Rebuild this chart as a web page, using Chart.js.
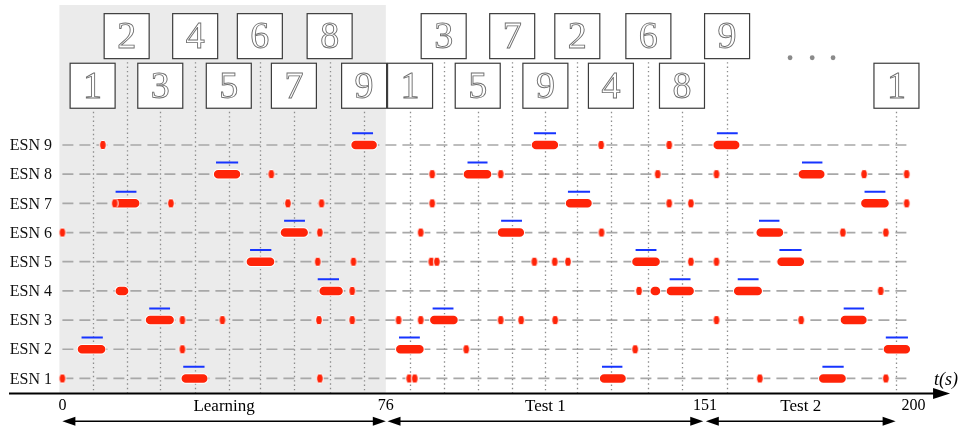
<!DOCTYPE html>
<html>
<head>
<meta charset="utf-8">
<script src="https://cdn.jsdelivr.net/npm/chart.js@4.4.0/dist/chart.umd.min.js"></script>
<style>
  html, body { margin: 0; padding: 0; background: #fff; overflow: hidden; }
  #esnChart { display: block; width: 964px; height: 432px; }
</style>
</head>
<body>
<canvas id="esnChart" width="964" height="432"></canvas>
<script>
// rows of the chart
const esnNames = ['ESN 1', 'ESN 2', 'ESN 3', 'ESN 4', 'ESN 5', 'ESN 6', 'ESN 7', 'ESN 8', 'ESN 9'];

// digits shown to the network, time (s) and box row (0 = lower, 1 = upper)
const digitLabels = ['1', '2', '3', '4', '5', '6', '7', '8', '9', '1', '3', '5', '7', '9', '2', '4', '6', '8', '9', '1'];
const digitTimes = [7.1, 15.1, 23.0, 31.2, 39.1, 46.4, 54.4, 62.8, 70.9, 81.7, 89.6, 97.6, 105.7, 113.5, 121.0, 128.9, 137.7, 145.6, 156.2, 196.0];
const digitTier = [0, 1, 0, 1, 0, 1, 0, 1, 0, 0, 1, 0, 1, 0, 1, 0, 1, 0, 1, 0];
const ellipsisTimes = [171.0, 176.2, 181.1];

// phases along the time axis
const phaseNames = ['Learning', 'Test 1', 'Test 2'];
const phaseSpans = [[0, 76], [76.4, 150.6], [151.2, 195.8]];
const tickValues = [0, 76, 151, 200];
const learningEnd = 76;

// red activity bursts per ESN, [start, end] in s
const esn1Runs = [[29.0, 33.1], [127.3, 131.4], [178.8, 183.1]];
const esn2Runs = [[4.6, 9.1], [79.4, 83.9], [194.0, 198.2]];
const esn3Runs = [[20.6, 25.2], [87.4, 91.9], [183.9, 188.0]];
const esn4Runs = [[13.5, 14.5], [61.4, 64.9], [139.2, 139.5], [143.0, 147.4], [158.8, 163.4]];
const esn5Runs = [[44.3, 48.8], [134.9, 139.4], [169.0, 173.3]];
const esn6Runs = [[52.3, 56.7], [103.3, 107.5], [164.1, 168.4]];
const esn7Runs = [[12.8, 17.1], [119.3, 123.4], [188.7, 193.2]];
const esn8Runs = [[36.6, 40.8], [95.3, 99.8], [174.0, 178.1]];
const esn9Runs = [[68.9, 72.9], [111.3, 115.5], [154.0, 158.1]];

// single spikes per ESN, in s
const esn1Spikes = [0, 60.5, 81.5, 82.8, 163.9, 193.5];
const esn2Spikes = [28.2, 94.9, 134.6];
const esn3Spikes = [28.2, 37.6, 60.3, 68.1, 79.0, 84.2, 103.0, 107.8, 115.8, 153.7, 173.6];
const esn4Spikes = [68.1, 135.5, 192.3];
const esn5Spikes = [60.0, 68.4, 86.7, 88.0, 110.9, 115.7, 118.8, 147.7, 153.7];
const esn6Spikes = [0, 60.5, 84.2, 126.7, 183.4, 193.5];
const esn7Spikes = [12.3, 25.5, 53.0, 60.9, 86.9, 142.6, 147.7, 198.4];
const esn8Spikes = [49.1, 86.9, 103.0, 139.9, 153.7, 188.4, 198.4];
const esn9Spikes = [9.5, 126.6, 142.6];

// expected answer windows (blue), [start, end] in s
const esn1Target = [[28.4, 33.4], [126.8, 131.6], [178.6, 183.6]];
const esn2Target = [[4.5, 9.5], [79.1, 84.0], [193.5, 198.7]];
const esn3Target = [[20.4, 25.3], [87.0, 91.9], [183.6, 188.4]];
const esn4Target = [[60.0, 65.0], [142.7, 147.6], [158.7, 163.6]];
const esn5Target = [[44.1, 49.1], [134.7, 139.6], [168.5, 173.7]];
const esn6Target = [[52.1, 57.0], [103.1, 108.0], [163.7, 168.5]];
const esn7Target = [[12.5, 17.4], [118.8, 124.0], [188.5, 193.4]];
const esn8Target = [[36.1, 41.3], [95.2, 99.9], [173.8, 178.6]];
const esn9Target = [[68.1, 73.0], [110.8, 116.0], [153.8, 158.7]];

const allRuns = [esn1Runs, esn2Runs, esn3Runs, esn4Runs, esn5Runs, esn6Runs, esn7Runs, esn8Runs, esn9Runs];
const allSpikes = [esn1Spikes, esn2Spikes, esn3Spikes, esn4Spikes, esn5Spikes, esn6Spikes, esn7Spikes, esn8Spikes, esn9Spikes];
const allTargets = [esn1Target, esn2Target, esn3Target, esn4Target, esn5Target, esn6Target, esn7Target, esn8Target, esn9Target];

const RED = 'rgb(255,36,8)';
const BLUE = 'rgb(22,52,255)';
const SERIF = '"Liberation Serif", "DejaVu Serif", serif';
const targetLift = 0.4;   // blue line sits a bit above its row
const tierY = [11.03, 12.73];
const axisY = 0.48;
const gridEnd = 198.6;

// broken line: each pair of points is one segment, a null ends it
function segmentPoints(lists, lift) {
  const pts = [];
  lists.forEach((segs, i) => {
    segs.forEach(([a, b]) => {
      pts.push({ x: a, y: i + 1 + lift }, { x: b, y: i + 1 + lift }, { x: b, y: null });
    });
  });
  return pts;
}

const spikePoints = [];
allSpikes.forEach((list, i) => list.forEach(t => spikePoints.push({ x: t, y: i + 1 })));

// ellipse marker for spikes
const spikeDot = document.createElement('canvas');
spikeDot.width = 10;
spikeDot.height = 12;
(function () {
  const g = spikeDot.getContext('2d');
  g.beginPath();
  g.ellipse(5, 6, 3.3, 4.6, 0, 0, Math.PI * 2);
  g.fillStyle = RED;
  g.fill();
  g.lineWidth = 1;
  g.strokeStyle = '#fff';
  g.stroke();
})();

function arrowHead(ctx, tipX, tipY, dir, len, half) {
  ctx.beginPath();
  ctx.moveTo(tipX, tipY);
  ctx.lineTo(tipX - dir * len, tipY - half);
  ctx.lineTo(tipX - dir * len, tipY + half);
  ctx.closePath();
  ctx.fill();
}

const decor = {
  id: 'decor',
  beforeDatasetsDraw(chart) {
    const { ctx, scales: { x, y } } = chart;
    const baseY = y.getPixelForValue(axisY);
    ctx.save();

    // learning phase backdrop
    ctx.fillStyle = '#ebebeb';
    ctx.fillRect(x.getPixelForValue(-0.7), chart.chartArea.top,
      x.getPixelForValue(learningEnd) - x.getPixelForValue(-0.7), baseY - chart.chartArea.top);

    // dashed row lines
    ctx.strokeStyle = '#a8a8a8';
    ctx.lineWidth = 1.7;
    ctx.setLineDash([11, 6]);
    esnNames.forEach((n, i) => {
      const py = y.getPixelForValue(i + 1);
      ctx.beginPath();
      ctx.moveTo(x.getPixelForValue(0), py);
      ctx.lineTo(x.getPixelForValue(gridEnd), py);
      ctx.stroke();
    });

    // dotted lines under each digit
    ctx.strokeStyle = '#8c8c8c';
    ctx.lineWidth = 1.3;
    ctx.setLineDash([1.4, 3]);
    digitTimes.forEach((t, i) => {
      const px = Math.round(x.getPixelForValue(t)) + 0.5;
      const top = y.getPixelForValue(tierY[digitTier[i]]) + 26;
      ctx.beginPath();
      ctx.moveTo(px, top);
      ctx.lineTo(px, baseY);
      ctx.stroke();
    });
    ctx.setLineDash([]);

    // digit boxes
    const side = 45;
    digitTimes.forEach((t, i) => {
      const cx = x.getPixelForValue(t);
      const cy = y.getPixelForValue(tierY[digitTier[i]]);
      ctx.fillStyle = '#fff';
      ctx.fillRect(cx - side / 2, cy - side / 2, side, side);
      ctx.strokeStyle = '#3c3c3c';
      ctx.lineWidth = 1.2;
      ctx.strokeRect(cx - side / 2, cy - side / 2, side, side);
      ctx.font = '38px ' + SERIF;
      ctx.textAlign = 'center';
      ctx.textBaseline = 'middle';
      ctx.strokeStyle = '#6e6e6e';
      ctx.lineWidth = 0.9;
      ctx.strokeText(digitLabels[i], cx, cy + 2);
    });

    // "..." between the test digits
    ctx.fillStyle = '#8a8a8a';
    ellipsisTimes.forEach(t => {
      ctx.beginPath();
      ctx.arc(x.getPixelForValue(t), y.getPixelForValue(11.99), 2.4, 0, Math.PI * 2);
      ctx.fill();
    });
    ctx.restore();
  },
  afterDatasetsDraw(chart) {
    const { ctx, scales: { x, y } } = chart;
    const baseY = y.getPixelForValue(axisY);
    ctx.save();

    // row names
    ctx.fillStyle = '#111';
    ctx.font = '16px ' + SERIF;
    ctx.textAlign = 'right';
    ctx.textBaseline = 'middle';
    esnNames.forEach((n, i) => ctx.fillText(n, chart.chartArea.left + 47, y.getPixelForValue(i + 1) + 1));

    // time axis with arrow
    const tipX = x.getPixelForValue(208.6);
    ctx.strokeStyle = '#000';
    ctx.fillStyle = '#000';
    ctx.lineWidth = 2;
    ctx.beginPath();
    ctx.moveTo(chart.chartArea.left + 4, baseY);
    ctx.lineTo(tipX - 10, baseY);
    ctx.stroke();
    arrowHead(ctx, tipX, baseY, 1, 17, 5.5);

    ctx.font = 'italic 18px ' + SERIF;
    ctx.textAlign = 'right';
    ctx.textBaseline = 'alphabetic';
    ctx.fillText('t(s)', chart.chartArea.right - 1, baseY - 9);

    // tick labels
    ctx.font = '16px ' + SERIF;
    ctx.textAlign = 'center';
    tickValues.forEach(v => ctx.fillText(String(v), x.getPixelForValue(v), baseY + 16));

    // phase names and double arrows
    ctx.font = '17px ' + SERIF;
    const arrowY = baseY + 27.6;
    ctx.lineWidth = 1.5;
    phaseSpans.forEach(([a, b], i) => {
      const xa = x.getPixelForValue(a);
      const xb = x.getPixelForValue(b);
      ctx.fillText(phaseNames[i], (xa + xb) / 2, baseY + 17);
      ctx.beginPath();
      ctx.moveTo(xa + 8, arrowY);
      ctx.lineTo(xb - 8, arrowY);
      ctx.stroke();
      arrowHead(ctx, xa, arrowY, -1, 13, 4.5);
      arrowHead(ctx, xb, arrowY, 1, 13, 4.5);
    });
    ctx.restore();
  }
};

const ctx = document.getElementById('esnChart').getContext('2d');

const esnChart = new Chart(ctx, {
  type: 'line',
  data: {
    datasets: [
      {
        label: 'spikes',
        data: spikePoints,
        showLine: false,
        pointStyle: spikeDot,
        pointRadius: 4,
        order: 0
      },
      {
        label: 'bursts',
        data: segmentPoints(allRuns, 0),
        borderColor: RED,
        borderWidth: 8.5,
        borderCapStyle: 'round',
        pointRadius: 0,
        spanGaps: false,
        order: 1
      },
      {
        label: 'expected',
        data: segmentPoints(allTargets, targetLift),
        borderColor: BLUE,
        borderWidth: 2,
        pointRadius: 0,
        spanGaps: false,
        order: 2
      },
      {
        label: 'burst outline',
        data: segmentPoints(allRuns, 0),
        borderColor: '#fff',
        borderWidth: 10.5,
        borderCapStyle: 'round',
        pointRadius: 0,
        spanGaps: false,
        order: 3
      }
    ]
  },
  options: {
    responsive: false,
    maintainAspectRatio: false,
    animation: false,
    events: [],
    layout: { padding: 0 },
    plugins: {
      legend: { display: false },
      tooltip: { enabled: false }
    },
    scales: {
      x: { type: 'linear', display: false, min: -58 / 4.3, max: (964 - 58) / 4.3, bounds: 'data' },
      y: { type: 'linear', display: false, min: -0.664, max: 13.797, bounds: 'data' }
    }
  },
  plugins: [decor]
});
</script>
</body>
</html>
